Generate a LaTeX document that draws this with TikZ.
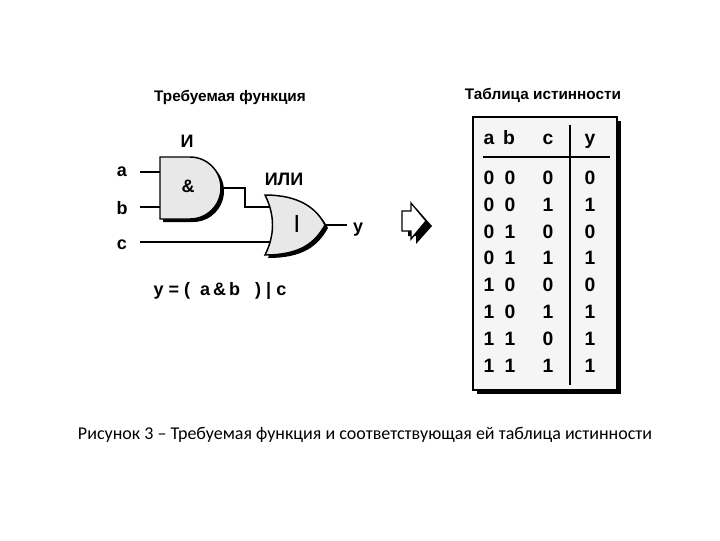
\documentclass[tikz,border=0pt]{standalone}
\usepackage{fontspec}
\setmainfont{Liberation Sans}
\newfontfamily\capfont{Carlito}
\begin{document}
\begin{tikzpicture}[x=0.75pt,y=-0.75pt,
  lbl/.style={font=\fontsize{11.5}{12}\selectfont\bfseries,text height=1.6ex,text depth=0.3ex},
  big/.style={font=\fontsize{13.5}{14}\selectfont\bfseries,text height=1.6ex,text depth=0.3ex},
  dig/.style={font=\fontsize{14.5}{15}\selectfont\bfseries,text height=1.6ex,text depth=0.3ex},
  wire/.style={line width=1pt},
  gate/.style={draw,line width=1.1pt,fill=gray!18}]
\useasboundingbox (0,0) rectangle (720,540);
% titles
\node[lbl] (t1) at (230,97) {Требуемая функция};
\node[lbl] (t2) at (543,95) {Таблица истинности};
% AND gate
\fill[black] (163,160) -- (193,160) arc[start angle=-90,end angle=90,radius=31] -- (163,222) -- cycle;
\draw[gate] (160,157) -- (190,157) arc[start angle=-90,end angle=90,radius=31] -- (160,219) -- cycle;
\node[big] (andl) at (187,143) {И};
\node[big] (amp) at (188,188) {\&};
\coordinate (aout) at (221,188);
% OR gate
\fill[black] (268,198) .. controls (303,198) and (320,212) .. (328,228) .. controls (318,246) and (303,258) .. (268,258) .. controls (278,238) and (278,218) .. cycle;
\draw[gate] (265,195) .. controls (300,195) and (317,209) .. (325,225) .. controls (315,243) and (300,255) .. (265,255) .. controls (275,235) and (275,215) .. cycle;
\node[big] (orl) at (284,181) {ИЛИ};
\node[big] (bar) at (297,224) {|};
\coordinate (orin1) at (270,207);
\coordinate (orin2) at (271,242);
\coordinate (orout) at (325,225);
% inputs
\node[big] (a) at (122,172) {a};
\node[big] (b) at (122,210) {b};
\node[big] (c) at (122,245) {c};
\node[big] (y) at (358,228) {y};
\coordinate (ain) at (160,172);
\coordinate (bin) at (160,207);
\draw[wire] (140,172) -- (ain);
\draw[wire] (140,207) -- (bin);
\draw[wire] (140,242) -- (orin2);
\draw[wire] (aout) -- (245,188) -- (245,207) -- (orin1);
\draw[wire] (orout) -- (347,225);
\node[big] (eq) at (220,291) {y = (\ \ a\,\&\,b\ \ \ ) | c};
% hollow arrow
\fill[black] (408,216) -- (416,216) -- (416,208) -- (432,226) -- (416,244) -- (416,236) -- (408,236) -- cycle;
\draw[line width=1pt,fill=white] (402,211) -- (411,211) -- (411,203) -- (426,221) -- (411,239) -- (411,231) -- (402,231) -- cycle;
% table
\fill[black] (477,121) rectangle (621,394);
\draw[line width=0.8pt,fill=gray!8] (473,117) rectangle (617,390);
\draw[line width=1pt] (483,157) -- (610,157);
\draw[line width=1pt] (570,125) -- (570,385);
\foreach \t/\x in {a/489,b/509,c/548,y/590} \node[dig] (h\t) at (\x,140) {\t};
\foreach \p/\q/\r/\s [count=\i from 0] in {0/0/0/0,0/0/1/1,0/1/0/0,0/1/1/1,1/0/0/0,1/0/1/1,1/1/0/1,1/1/1/1} {
  \pgfmathsetmacro\yy{180+\i*26.8}
  \node[dig] (d\i a) at (489,\yy) {\p};
  \node[dig] (d\i b) at (510,\yy) {\q};
  \node[dig] (d\i c) at (548,\yy) {\r};
  \node[dig] (d\i y) at (590,\yy) {\s};
}
\node[font=\capfont\fontsize{13.5}{15}\selectfont] (cap) at (365,435) {Рисунок 3 – Требуемая функция и соответствующая ей таблица истинности};
\end{tikzpicture}
\end{document}
